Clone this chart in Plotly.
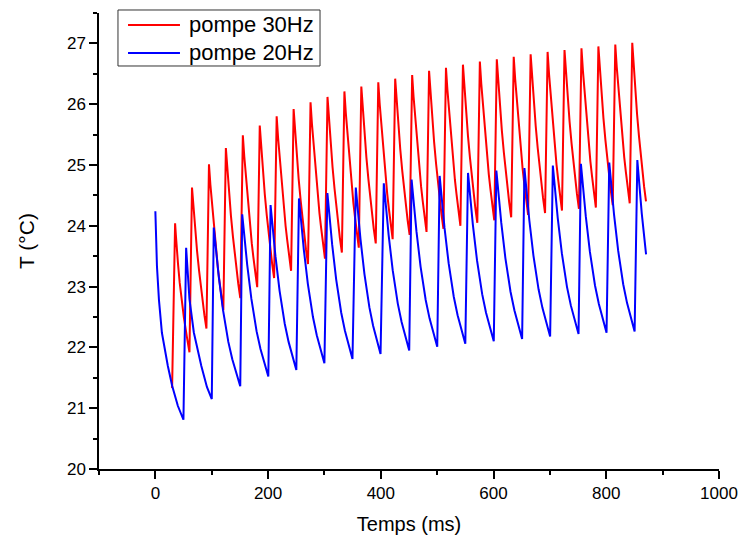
import plotly.graph_objects as go

# ---------------- data ----------------
# pompe 30Hz (red)
red_start_t = 29.7
red_start_T = 21.33
red_peak_t = [35.0, 65.0, 95.1, 125.1, 155.2, 185.2, 215.2, 245.3, 275.3, 305.4,
              335.4, 365.4, 395.5, 425.5, 455.6, 485.6, 515.6, 545.7, 575.7, 605.8,
              635.8, 665.8, 695.9, 725.9, 756.0, 786.0, 816.0, 846.1]
red_peak_T = [24.04, 24.63, 25.01, 25.28, 25.49, 25.65, 25.80, 25.92, 26.03, 26.12,
              26.21, 26.29, 26.36, 26.42, 26.48, 26.55, 26.60, 26.65, 26.70, 26.74,
              26.78, 26.82, 26.86, 26.89, 26.92, 26.95, 26.98, 27.01]
red_trough_t = [60.5, 90.6, 120.6, 150.7, 180.7, 210.7, 240.8, 270.8, 300.9, 330.9,
                360.9, 391.0, 421.0, 451.1, 481.1, 511.1, 541.2, 571.2, 601.3, 631.3,
                661.3, 691.4, 721.4, 751.5, 781.5, 811.5, 841.6, 870.5]
red_trough_T = [21.92, 22.31, 22.61, 22.81, 22.99, 23.14, 23.26, 23.37, 23.46, 23.56,
                23.64, 23.71, 23.78, 23.85, 23.90, 23.95, 24.00, 24.05, 24.09, 24.14,
                24.18, 24.21, 24.25, 24.28, 24.30, 24.34, 24.37, 24.40]
# decay profiles (relative position within a decay, relative height above trough)
red_first_phase = [0, 0.05, 0.116, 0.2, 0.32, 0.45, 0.61, 0.82, 1.0]
red_first_frac = [1, 0.915, 0.80, 0.69, 0.54, 0.40, 0.27, 0.12, 0.0]
red_phase = [0, 0.1, 0.22, 0.35, 0.49, 0.62, 0.73, 0.86, 1.0]
red_frac = [1, 0.86, 0.72, 0.55, 0.41, 0.29, 0.20, 0.095, 0.0]

# pompe 20Hz (blue)
blue_peak_t = [0.0, 54.6, 103.6, 154.1, 204.4, 254.8, 305.2, 355.6, 405.3, 454.6,
               504.4, 554.7, 605.0, 654.8, 705.2, 755.0, 805.3, 855.1]
blue_peak_T = [24.24, 23.64, 23.97, 24.19, 24.34, 24.45, 24.54, 24.63, 24.70, 24.76,
               24.82, 24.87, 24.91, 24.95, 24.99, 25.02, 25.04, 25.08]
blue_trough_t = [49.8, 100.1, 150.6, 200.4, 250.1, 299.9, 349.7, 399.5, 450.4,
                 500.1, 549.9, 600.4, 650.7, 700.4, 750.8, 800.5, 850.3]
blue_trough_T = [20.81, 21.15, 21.36, 21.52, 21.63, 21.74, 21.81, 21.89, 21.95,
                 22.01, 22.06, 22.10, 22.14, 22.18, 22.22, 22.24, 22.26]
blue_tail_t = [863.0, 870.6]
blue_tail_T = [24.20, 23.53]
blue_first_phase = [0, 0.021, 0.057, 0.127, 0.233, 0.445, 0.60, 0.80, 1.0]
blue_first_frac = [1, 0.895, 0.736, 0.576, 0.417, 0.258, 0.162, 0.067, 0.0]
blue_second_phase = [0, 0.05, 0.13, 0.30, 0.59, 0.81, 1.0]
blue_second_frac = [1, 0.85, 0.66, 0.44, 0.22, 0.08, 0.0]
blue_phase = [0, 0.1, 0.19, 0.35, 0.55, 0.70, 0.83, 1.0]
blue_frac = [1, 0.83, 0.69, 0.48, 0.28, 0.17, 0.09, 0.0]

series_names = ["pompe 30Hz", "pompe 20Hz"]
series_colors = ["#FF0000", "#0000FF"]
x_ticks = [0, 200, 400, 600, 800, 1000]
y_ticks = [20, 21, 22, 23, 24, 25, 26, 27]


def build(peak_t, peak_T, trough_t, trough_T, profiles):
    xs, ys = [], []
    for i, (tp, Tp, tt, Tt) in enumerate(zip(peak_t, peak_T, trough_t, trough_T)):
        phase, frac = profiles[min(i, len(profiles) - 1)]
        for p, f in zip(phase, frac):
            xs.append(tp + p * (tt - tp))
            ys.append(Tt + f * (Tp - Tt))
    return xs, ys


rx, ry = build(red_peak_t, red_peak_T, red_trough_t, red_trough_T,
               [(red_first_phase, red_first_frac), (red_phase, red_frac)])
rx = [red_start_t] + rx
ry = [red_start_T] + ry

bx, by = build(blue_peak_t, blue_peak_T, blue_trough_t, blue_trough_T,
               [(blue_first_phase, blue_first_frac),
                (blue_second_phase, blue_second_frac),
                (blue_phase, blue_frac)])
bx += [blue_peak_t[-1]] + blue_tail_t
by += [blue_peak_T[-1]] + blue_tail_T

FONT = "Liberation Sans, Arial, sans-serif"

fig = go.Figure()
fig.add_trace(go.Scatter(x=rx, y=ry, mode="lines", name=series_names[0],
                         line=dict(color=series_colors[0], width=2)))
fig.add_trace(go.Scatter(x=bx, y=by, mode="lines", name=series_names[1],
                         line=dict(color=series_colors[1], width=2)))

# legend box drawn in paper coordinates (Origin-style compact legend)
legend_rows_y = [0.9737, 0.9123]
fig.add_shape(type="rect", xref="paper", yref="paper",
              x0=0.0306, x1=0.3565, y0=0.8838, y1=1.0066,
              line=dict(color="#333333", width=1), fillcolor="white", layer="above")
for name, color, yy in zip(series_names, series_colors, legend_rows_y):
    fig.add_shape(type="line", xref="paper", yref="paper",
                  x0=0.0468, x1=0.1306, y0=yy, y1=yy,
                  line=dict(color=color, width=2), layer="above")
    fig.add_annotation(xref="paper", yref="paper", x=0.1419, y=yy,
                       xanchor="left", yanchor="middle", text=name,
                       showarrow=False,
                       font=dict(family=FONT, size=22, color="black"))

axis_common = dict(ticks="outside", ticklen=8, tickwidth=1.5, tickcolor="black",
                   showline=True, linecolor="black", linewidth=1.5,
                   showgrid=False, zeroline=False, mirror=False,
                   automargin=False, ticklabeloverflow="allow",
                   tickfont=dict(size=17))

fig.update_layout(
    width=739, height=538,
    margin=dict(l=99, r=20, t=13, b=69),
    paper_bgcolor="white", plot_bgcolor="white",
    font=dict(family=FONT, color="black", size=17),
    showlegend=False,
    xaxis=dict(range=[-100, 1000], tickvals=x_ticks,
               minor=dict(dtick=100, tick0=0, ticks="outside", ticklen=4,
                          tickwidth=1.5, tickcolor="black", showgrid=False),
               title=dict(text="Temps (ms)", font=dict(size=20), standoff=15),
               **axis_common),
    yaxis=dict(range=[20, 27.5], tickvals=y_ticks,
               minor=dict(dtick=0.5, tick0=20, ticks="outside", ticklen=4,
                          tickwidth=1.5, tickcolor="black", showgrid=False),
               title=dict(text="T (°C)", font=dict(size=21), standoff=27),
               **axis_common),
)

# remove the default page margin so the 739x538 figure fills the window exactly
fig.write_html(
    "out.html",
    config={"displayModeBar": False},
    post_script="document.body.style.margin='0';"
                "document.documentElement.style.overflow='hidden';",
)
